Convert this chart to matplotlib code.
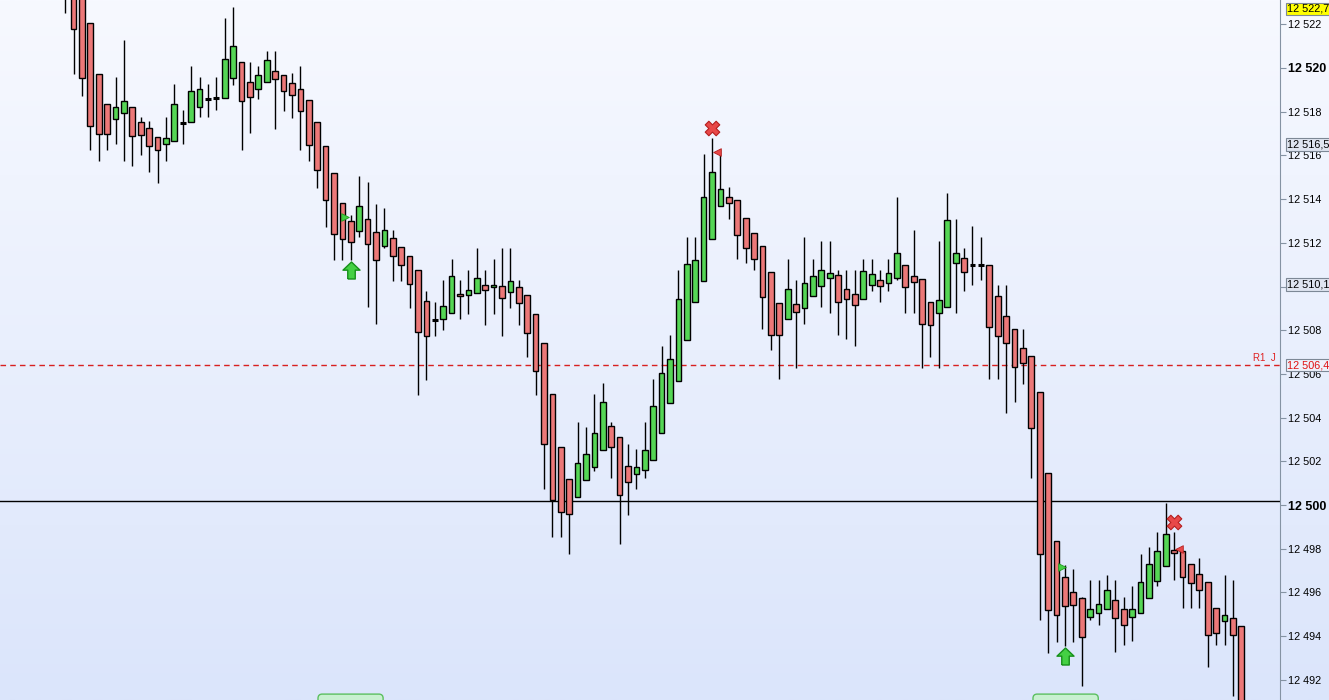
import numpy as np
import matplotlib
matplotlib.use('Agg')
import matplotlib.pyplot as plt
import matplotlib.transforms as mtransforms
from matplotlib.patches import FancyBboxPatch

# OHLC, one entry per bar (bar 0 = left edge)
opens = [12524.0, 12523.6, 12523.3, 12522.06, 12519.73, 12518.35, 12517.66, 12517.94, 12518.21, 12517.53,
         12517.25, 12516.84, 12516.52, 12516.66, 12517.48, 12517.53, 12518.21, 12518.58, 12518.63, 12518.63,
         12519.54, 12520.27, 12519.36, 12519.04, 12519.36, 12519.86, 12519.68, 12519.31, 12519.04, 12518.54,
         12517.53, 12516.43, 12515.19, 12513.82, 12513.00, 12512.54, 12513.09, 12512.49, 12511.85, 12512.22,
         12511.81, 12511.40, 12510.76, 12509.34, 12508.47, 12508.51, 12508.79, 12509.66, 12509.61, 12509.70,
         12510.07, 12509.98, 12510.02, 12509.75, 12509.98, 12509.61, 12508.74, 12507.41, 12505.08, 12502.65,
         12501.19, 12500.37, 12501.14, 12501.74, 12502.52, 12503.62, 12503.11, 12501.78, 12501.42, 12501.60,
         12502.06, 12503.30, 12504.67, 12505.68, 12507.55, 12509.29, 12510.25, 12512.17, 12513.68, 12514.10,
         12513.96, 12513.14, 12512.45, 12511.85, 12510.66, 12509.24, 12508.51, 12509.20, 12509.02, 12509.57,
         12510.02, 12510.39, 12510.53, 12509.89, 12509.66, 12509.43, 12510.07, 12510.30, 12510.16, 12510.39,
         12510.98, 12510.48, 12510.34, 12509.29, 12508.79, 12509.06, 12511.08, 12511.30, 12510.98, 12510.98,
         12510.98, 12509.57, 12508.65, 12508.05, 12507.19, 12506.82, 12505.17, 12501.46, 12498.35, 12496.70,
         12496.02, 12495.74, 12494.87, 12495.06, 12495.24, 12495.65, 12495.24, 12494.87, 12495.06, 12495.74,
         12496.52, 12497.21, 12497.94, 12497.89, 12497.30, 12496.84, 12496.48, 12495.29, 12494.69, 12494.83,
         12494.46]
highs = [12524.5, 12523.9, 12523.5, 12522.06, 12519.73, 12518.35, 12519.59, 12521.28, 12518.21, 12517.76,
         12517.57, 12516.84, 12517.76, 12519.27, 12518.08, 12520.09, 12519.59, 12519.27, 12519.59, 12522.29,
         12522.79, 12520.27, 12520.27, 12520.09, 12520.78, 12520.78, 12519.68, 12519.77, 12520.09, 12518.54,
         12517.53, 12516.43, 12515.19, 12513.82, 12513.27, 12515.06, 12514.78, 12513.78, 12513.59, 12512.59,
         12511.81, 12511.40, 12510.76, 12509.79, 12509.29, 12510.30, 12511.26, 12510.30, 12510.76, 12511.76,
         12510.76, 12511.26, 12511.76, 12511.76, 12510.30, 12509.61, 12508.74, 12507.41, 12505.08, 12502.65,
         12501.19, 12503.80, 12503.57, 12505.08, 12505.58, 12503.80, 12503.11, 12502.79, 12502.56, 12503.80,
         12505.77, 12507.28, 12507.78, 12510.76, 12512.27, 12512.27, 12516.06, 12516.80, 12516.29, 12514.55,
         12513.96, 12513.14, 12512.45, 12511.85, 12510.66, 12509.24, 12511.26, 12510.30, 12512.27, 12511.26,
         12512.08, 12512.08, 12510.76, 12510.76, 12510.76, 12511.26, 12511.26, 12510.76, 12511.26, 12514.10,
         12510.98, 12512.59, 12510.34, 12509.29, 12512.08, 12514.28, 12513.09, 12511.76, 12512.77, 12512.27,
         12510.98, 12510.07, 12510.07, 12508.05, 12508.05, 12506.82, 12505.17, 12501.46, 12498.35, 12497.25,
         12497.07, 12495.79, 12496.57, 12496.57, 12496.80, 12496.57, 12495.79, 12496.29, 12497.76, 12498.08,
         12498.76, 12500.09, 12498.76, 12497.89, 12497.30, 12497.57, 12496.48, 12495.29, 12496.80, 12496.57,
         12494.46]
lows = [12522.5, 12519.73, 12518.72, 12516.25, 12515.74, 12516.25, 12516.52, 12515.74, 12515.51, 12516.02,
        12515.24, 12514.74, 12515.74, 12516.66, 12516.52, 12517.53, 12517.76, 12517.76, 12518.08, 12518.63,
        12519.22, 12516.25, 12517.03, 12518.58, 12519.36, 12517.21, 12518.03, 12517.71, 12516.25, 12515.74,
        12514.51, 12512.72, 12511.21, 12511.21, 12511.21, 12512.27, 12509.06, 12508.28, 12511.76, 12510.25,
        12510.25, 12509.02, 12505.03, 12505.72, 12507.73, 12508.01, 12508.79, 12508.51, 12508.74, 12509.70,
        12508.24, 12508.74, 12507.73, 12509.02, 12508.24, 12506.77, 12505.03, 12500.73, 12498.54, 12498.54,
        12497.76, 12500.37, 12501.14, 12501.56, 12502.52, 12501.24, 12498.22, 12499.54, 12500.73, 12501.24,
        12502.06, 12503.30, 12504.67, 12505.68, 12507.55, 12509.29, 12510.25, 12512.17, 12513.68, 12513.09,
        12511.26, 12511.08, 12510.76, 12508.05, 12507.09, 12505.77, 12508.51, 12506.27, 12508.28, 12509.57,
        12509.06, 12508.79, 12507.78, 12507.60, 12507.28, 12509.43, 12509.79, 12509.29, 12509.79, 12510.30,
        12508.79, 12508.79, 12506.27, 12506.77, 12506.27, 12509.06, 12508.79, 12509.79, 12510.07, 12510.30,
        12505.77, 12505.77, 12504.21, 12504.71, 12505.54, 12501.24, 12494.74, 12493.23, 12493.73, 12493.55,
        12493.73, 12491.72, 12494.74, 12494.51, 12495.24, 12493.27, 12493.59, 12493.78, 12495.06, 12495.74,
        12496.29, 12497.21, 12496.57, 12495.29, 12495.29, 12495.29, 12492.59, 12493.59, 12493.59, 12491.26,
        12490.20]
closes = [12523.4, 12521.79, 12519.54, 12517.35, 12516.98, 12516.98, 12518.21, 12518.49, 12516.89, 12516.93,
          12516.43, 12516.25, 12516.80, 12518.35, 12517.48, 12518.95, 12519.04, 12518.58, 12518.63, 12520.41,
          12521.01, 12518.49, 12518.67, 12519.68, 12520.37, 12519.50, 12518.95, 12518.76, 12518.03, 12516.48,
          12515.33, 12513.96, 12512.40, 12512.17, 12512.04, 12513.68, 12511.95, 12511.21, 12512.59, 12511.40,
          12510.98, 12510.11, 12507.92, 12507.73, 12508.47, 12509.11, 12510.48, 12509.57, 12509.84, 12510.39,
          12509.84, 12510.07, 12509.47, 12510.25, 12509.24, 12507.87, 12506.13, 12502.79, 12500.23, 12499.68,
          12499.59, 12501.92, 12502.33, 12503.30, 12504.71, 12502.65, 12500.46, 12501.05, 12501.74, 12502.52,
          12504.53, 12506.04, 12506.68, 12509.43, 12511.03, 12511.21, 12514.10, 12515.24, 12514.46, 12513.82,
          12512.36, 12511.76, 12511.26, 12509.52, 12507.78, 12507.78, 12509.89, 12508.83, 12510.16, 12510.48,
          12510.76, 12510.62, 12509.29, 12509.43, 12509.15, 12510.71, 12510.57, 12510.02, 12510.62, 12511.53,
          12509.98, 12510.21, 12508.28, 12508.24, 12509.38, 12513.04, 12511.53, 12510.66, 12510.98, 12510.98,
          12508.15, 12507.73, 12507.41, 12506.32, 12506.50, 12503.52, 12497.76, 12495.19, 12494.97, 12495.38,
          12495.42, 12493.96, 12495.24, 12495.47, 12496.11, 12494.83, 12494.51, 12495.24, 12496.48, 12497.30,
          12497.89, 12498.67, 12497.80, 12496.70, 12496.43, 12496.11, 12494.05, 12494.14, 12494.97, 12494.05,
          12490.50]

# signals: (bar, price)
sell_bar, sell_px = [77, 132], [12517.25, 12499.22]
exit_bar, exit_px = [77.55, 132.6], [12516.16, 12497.99]
entry_bar, entry_px = [33.3, 118.6], [12513.18, 12497.16]
buy_bar, buy_px = [34, 119], [12510.76, 12493.09]

# levels and price tags
r1_level = 12506.4
base_level = 12500.18
tags = [(12522.7, '12 522,7', 'black', '#ffff00'),
        (12516.5, '12 516,5', 'black', '#dfe5f0'),
        (12510.1, '12 510,1', 'black', '#dfe5f0'),
        (12506.4, '12 506,4', '#e01010', '#eef2fb')]
yticks = np.arange(12492, 12523, 2)
bold_ticks = [12500, 12520]
session_boxes = [(30.1, 37.85), (115.2, 122.97)]

o = np.array(opens)
h = np.array(highs)
l = np.array(lows)
c = np.array(closes)
idx = np.arange(len(o))

fig = plt.figure(figsize=(13.29, 7.0), dpi=100)

# background gradient
bg = fig.add_axes([0, 0, 1, 1], zorder=-1)
grad = np.linspace(0, 1, 256)[:, None, None]
top = np.array([247, 249, 255]) / 255
bottom = np.array([219, 229, 251]) / 255
bg.imshow(top + (bottom - top) * grad, aspect='auto', extent=[0, 1, 0, 1])
bg.axis('off')

ax = fig.add_axes([0, 0, 1280 / 1329, 1])
ax.patch.set_alpha(0)

up = c > o
dn = c < o
flat = c == o
w = 0.68
ax.vlines(idx, l, h, color='black', lw=1.0, zorder=2)
ax.bar(idx[up], c[up] - o[up], bottom=o[up], width=w, color='#55d655',
       edgecolor='black', lw=1.0, zorder=3)
ax.bar(idx[dn], o[dn] - c[dn], bottom=c[dn], width=w, color='#ec7878',
       edgecolor='black', lw=1.0, zorder=3)
ax.hlines(o[flat], idx[flat] - w / 2, idx[flat] + w / 2, color='black', lw=2.2, zorder=3)

ax.axhline(base_level, color='black', lw=1.0, zorder=1)
ax.axhline(r1_level, color='#d82020', lw=1.0, ls=(0, (4, 3)), zorder=1)
ax.text(0.997, r1_level + 0.12, 'R1  J', color='#e02020', fontsize=7,
        transform=mtransforms.blended_transform_factory(ax.transAxes, ax.transData),
        ha='right', va='bottom', family='Liberation Sans')

# markers
ax.scatter(sell_bar, sell_px, marker='X', s=110, color='#e84848', edgecolor='#b52020',
           lw=0.8, zorder=5)
ax.scatter(exit_bar, exit_px, marker='<', s=30, color='#e84848', edgecolor='#b52020',
           lw=0.6, zorder=5)
ax.scatter(entry_bar, entry_px, marker='>', s=30, color='#44d044', edgecolor='#1f9a1f',
           lw=0.6, zorder=5)
arrow = [(-0.22, -0.5), (0.22, -0.5), (0.22, 0.02), (0.5, 0.02), (0, 0.5),
         (-0.5, 0.02), (-0.22, 0.02), (-0.22, -0.5)]
ax.scatter(buy_bar, buy_px, marker=arrow, s=150, color='#44d044', edgecolor='#16901a',
           lw=1.0, zorder=5)

# bottom boxes (cut off by the edge)
for x0, x1 in session_boxes:
    ax.add_patch(FancyBboxPatch((x0, 12490.7), x1 - x0, 0.65,
                                boxstyle='round,pad=0,rounding_size=0.5',
                                mutation_aspect=0.384, fc='#c8f0d0', ec='#5cc060',
                                lw=1.0, zorder=4))

ax.set_xlim(-7.75, 144.6)
ax.set_ylim(12491.08, 12523.11)
ax.set_xticks([])
for s in ['top', 'left', 'bottom']:
    ax.spines[s].set_visible(False)
ax.spines['right'].set_color('#8593a3')
ax.yaxis.tick_right()
ax.set_yticks(yticks)
ax.set_yticklabels([f'{v:,}'.replace(',', ' ') for v in yticks])
ax.tick_params(axis='y', length=4, width=0.8, color='#8593a3', pad=2, labelsize=7.8)
for lab, v in zip(ax.get_yticklabels(), yticks):
    lab.set_family('Liberation Sans')
    if v in bold_ticks:
        lab.set_fontweight('bold')
        lab.set_fontsize(9)

trans = mtransforms.blended_transform_factory(ax.transAxes, ax.transData)
for price, txt, col, fc in tags:
    ax.text(1.0055, price, txt, transform=trans, color=col, fontsize=7.8,
            family='Liberation Sans', va='center', ha='left', clip_on=False, zorder=10,
            bbox=dict(boxstyle='square,pad=0.12', fc=fc, ec='#7d8896', lw=0.8))

plt.savefig('out.png', dpi=100)
